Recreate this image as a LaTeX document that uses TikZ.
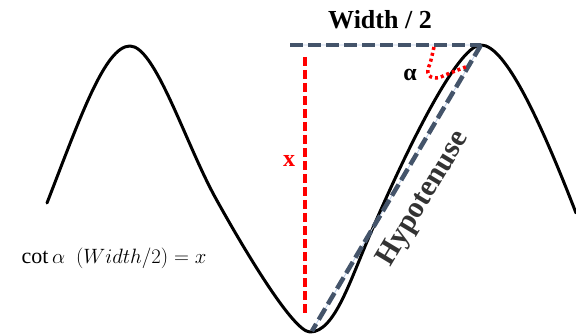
\documentclass[tikz,border=0pt]{standalone}
\usepackage{fontspec}
\usepackage{amsmath}
\setmainfont{Liberation Serif}
\definecolor{slate}{HTML}{44546A}
\definecolor{lightline}{HTML}{BDD0EA}
\definecolor{redline}{HTML}{FF0000}
\begin{document}
\begin{tikzpicture}[x=1pt,y=-1pt,
  curve/.style={line width=3pt, line cap=round, line join=round},
  slatedash/.style={slate, line width=4.5pt, dash pattern=on 13pt off 5pt},
  slatecore/.style={lightline, line width=0.8pt},
  reddash/.style={redline, line width=3.2pt, dash pattern=on 9pt off 4pt},
  reddot/.style={redline, line width=3.5pt, dash pattern=on 3pt off 3pt},
  boldlabel/.style={font=\bfseries\fontsize{26}{28}\selectfont, inner sep=0pt}
]
\useasboundingbox (0,0) rectangle (576,334);
% sine-like curve
\draw[curve] (47,203) .. controls (80,118) and (105,46) .. (130,46)
  .. controls (155,46) and (185,142) .. (215,197)
  .. controls (237,237) and (292,332) .. (310,332)
  .. controls (335,332) and (350,280) .. (372,230)
  .. controls (400,165) and (456,45) .. (481,45)
  .. controls (505,45) and (540,120) .. (576,213);
% key points
\coordinate (hstart) at (290,45);
\coordinate (peak) at (481,45);
\coordinate (valley) at (312,331);
\coordinate (rtop) at (305,57);
\coordinate (rbot) at (305,313);
% dashed lines
\draw[slatecore] (hstart) -- (peak) -- (valley);
\draw[slatedash] (hstart) -- (peak);
\draw[slatedash] (peak) -- (valley);
\draw[reddash] (rtop) -- (rbot);
% angle mark
\draw[reddot] plot[smooth, tension=0.7] coordinates {(434,47) (431,60) (428,73) (436,78) (450,73) (468,66)};
% labels
\node[boldlabel] (wlab) at (380,20) {Width / 2};
\node[boldlabel, font=\bfseries\fontsize{24}{26}\selectfont] (alab) at (410,75) {α};
\node[boldlabel, text=redline, font=\bfseries\fontsize{24}{26}\selectfont] (xlab) at (289,161) {x};
\node[boldlabel, text=black!80, rotate=59, font=\bfseries\fontsize{30}{32}\selectfont] (hlab) at (424,199) {Hypotenuse};
\node[inner sep=0pt, font=\fontsize{22}{24}\selectfont] (form) at (114,258) {$\cot\alpha\ \ (Width/2)=x$};
\end{tikzpicture}
\end{document}
